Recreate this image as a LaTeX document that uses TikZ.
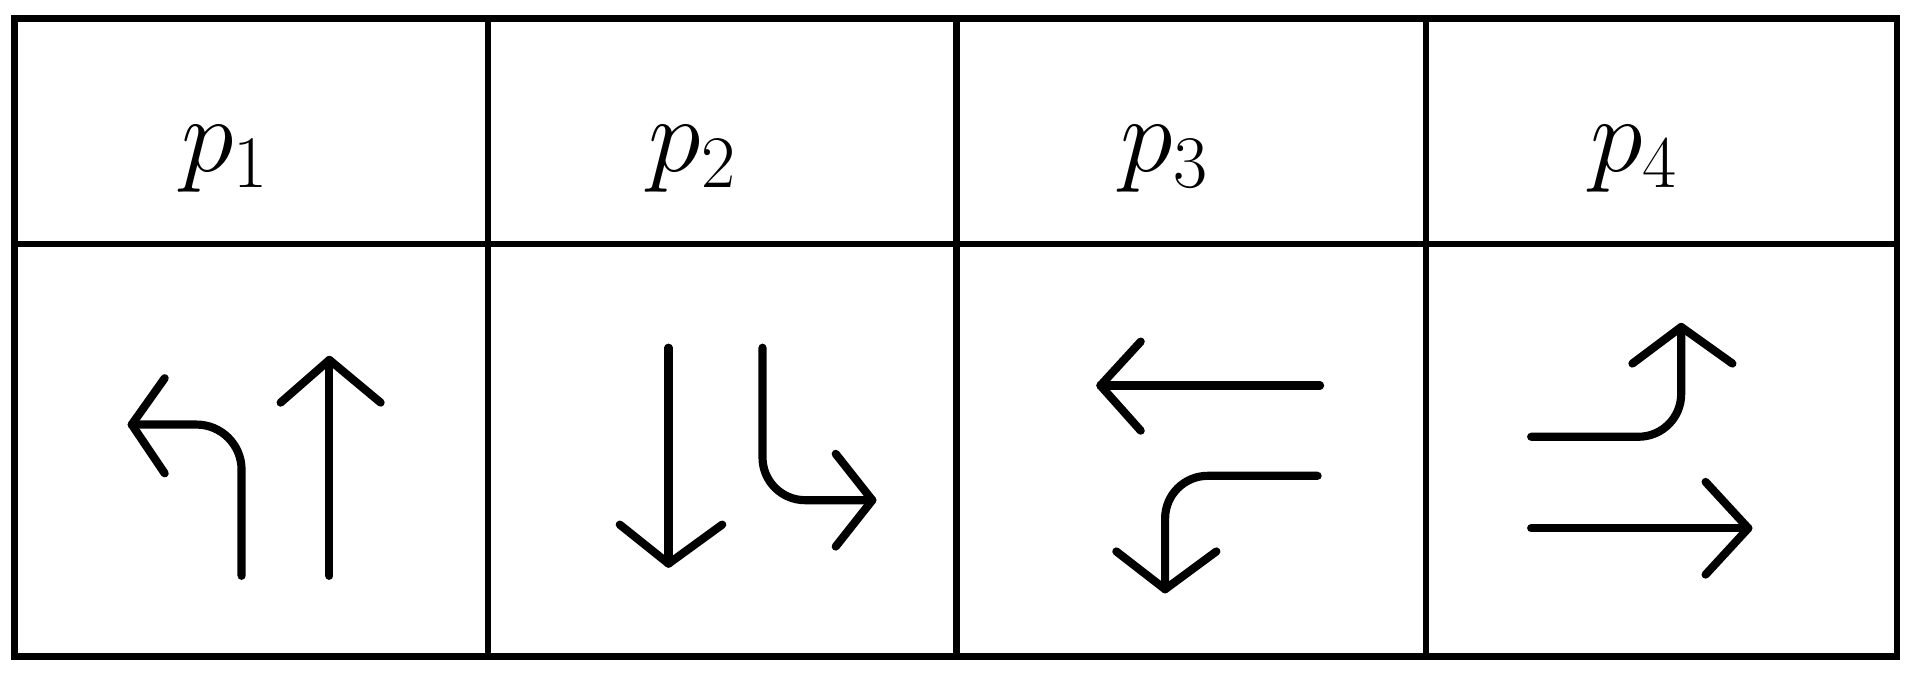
\documentclass[tikz,border=0pt]{standalone}
\begin{document}
\begin{tikzpicture}[x=0.01cm,y=-0.01cm,
  grid/.style={line width=1.5pt},
  arr/.style={line width=1.9pt,line cap=round,line join=round},
  lab/.style={font=\fontsize{26}{30}\selectfont}]
\useasboundingbox (0,0) rectangle (1568,555);
\fill[white] (0,0) rectangle (1568,555);
\draw[grid] (12,15) rectangle (1555,538);
\draw[grid] (12,200) -- (1555,200);
\foreach \x in {400,784,1169} \draw[grid] (\x,15) -- (\x,538);
\node[lab] (p1) at (185,130) {$p_1$};
\node[lab] (p2) at (568,130) {$p_2$};
\node[lab] (p3) at (955,130) {$p_3$};
\node[lab] (p4) at (1340,130) {$p_4$};
% cell 1
\draw[arr] (198,472) -- (198,385) arc[start angle=0,end angle=-90,radius=37] -- (108,348);
\draw[arr] (135,310) -- (108,348) -- (135,388);
\draw[arr] (270,472) -- (270,295);
\draw[arr] (230,330) -- (270,295) -- (312,330);
% cell 2
\draw[arr] (548,285) -- (548,462);
\draw[arr] (508,430) -- (548,462) -- (592,430);
\draw[arr] (625,285) -- (625,375) arc[start angle=180,end angle=90,radius=35] -- (715,410);
\draw[arr] (685,372) -- (715,410) -- (685,448);
% cell 3
\draw[arr] (1082,316) -- (902,316);
\draw[arr] (935,280) -- (902,316) -- (935,353);
\draw[arr] (1080,390) -- (990,390) arc[start angle=270,end angle=180,radius=35] -- (955,483);
\draw[arr] (915,452) -- (955,483) -- (997,452);
% cell 4
\draw[arr] (1255,358) -- (1343,358) arc[start angle=90,end angle=0,radius=35] -- (1378,268);
\draw[arr] (1338,298) -- (1378,268) -- (1420,298);
\draw[arr] (1255,433) -- (1433,433);
\draw[arr] (1398,395) -- (1433,433) -- (1398,471);
\end{tikzpicture}
\end{document}
